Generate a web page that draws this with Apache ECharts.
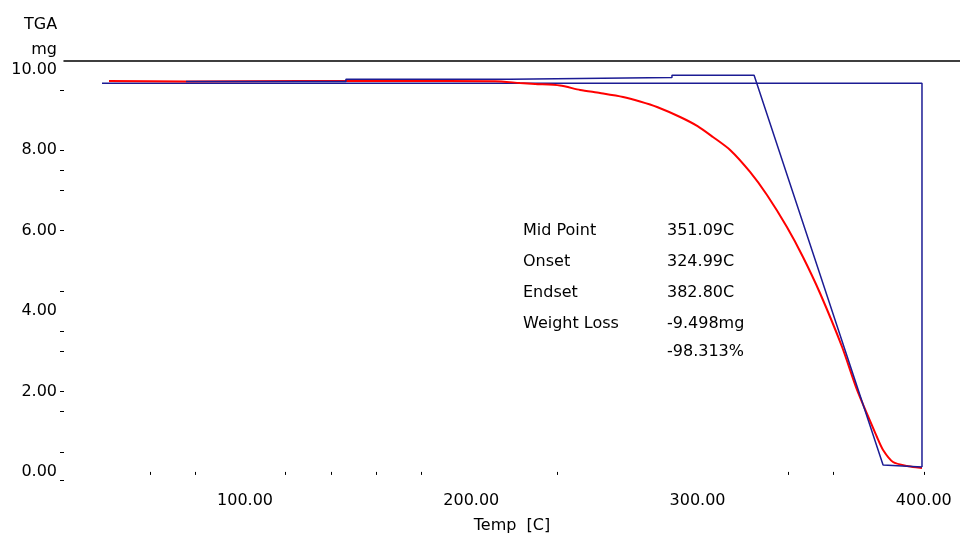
<!DOCTYPE html>
<html>
<head>
<meta charset="utf-8" />
<title>TGA</title>
<script src="https://cdn.jsdelivr.net/npm/echarts@6/dist/echarts.min.js"></script>
<style>
  * { padding: 0; margin: 0; }
  #main { width: 960px; height: 533px; }
</style>
</head>
<body>
<div id="main"></div>
<script type="text/javascript">
// measured weight curve  [temp C, mg]
var redCurve = [
  [39.9, 9.723], [73.9, 9.71], [124.3, 9.72], [168.5, 9.72], [210.5, 9.718],
  [221.5, 9.673], [228.2, 9.648], [239.2, 9.61], [248.1, 9.50], [256.9, 9.424],
  [267.1, 9.325], [274.6, 9.213], [282.1, 9.076], [292.3, 8.827], [300.0, 8.60],
  [306.8, 8.33], [314.4, 8.007], [323.2, 7.46], [330.7, 6.887], [339.5, 6.09],
  [346.6, 5.346], [354.1, 4.45], [363.9, 3.107], [370.5, 2.038],
  [379.3, 0.869], [382.0, 0.546], [386.4, 0.247], [392.6, 0.148], [399.2, 0.098]
];
// baseline box
var baseLine = [[36.8, 9.665], [399.2, 9.665], [399.2, 0.123]];
// onset / endset tangent construction
var tangentLine = [
  [73.9, 9.71], [144.6, 9.71], [144.6, 9.765], [217.1, 9.765], [217.1, 9.81],
  [288.7, 9.81], [288.7, 9.864], [325.0, 9.864], [382.0, 0.173], [399.2, 0.123]
];
var xLabels = [100, 200, 300, 400];
var xTicks = [58, 78, 118, 138, 158, 178, 238, 340, 360, 400];
var yLabels = [0, 2, 4, 6, 8, 10];
var yTicks = [9.5, 8, 7.5, 7, 6, 4.5, 3.5, 3, 2, 1.5, 0.5, -0.2];
var resultNames = ['Mid Point', 'Onset', 'Endset', 'Weight Loss', ''];
var resultValues = ['351.09C', '324.99C', '382.80C', '-9.498mg', '-98.313%'];

var font = 'DejaVu Sans';
var myChart = echarts.init(document.getElementById('main'));

var graphics = [
  { type: 'text', left: 24, top: 17, style: { text: 'TGA', font: '16px ' + font, fill: '#000' } },
  { type: 'text', right: 903, top: 42, style: { text: 'mg', font: '16px ' + font, fill: '#000' } }
];
for (var i = 0; i < resultNames.length; i++) {
  graphics.push({ type: 'text', left: 523, top: 223 + i * 31 - (i == 4 ? 3 : 0),
    style: { text: resultNames[i], font: '16px ' + font, fill: '#000' } });
  graphics.push({ type: 'text', left: 667, top: 223 + i * 31 - (i == 4 ? 3 : 0),
    style: { text: resultValues[i], font: '16px ' + font, fill: '#000' } });
}

var option = {
  backgroundColor: '#fff',
  animation: false,
  grid: { left: 64, right: 0, top: 61, bottom: 45, outerBoundsMode: 'none', containLabel: false },
  graphic: graphics,
  xAxis: [{
    type: 'value',
    min: 20,
    max: 416,
    name: 'Temp  [C]',
    nameLocation: 'middle',
    nameGap: 30,
    nameTextStyle: { fontFamily: font, fontSize: 16, color: '#000' },
    axisLine: { show: false },
    splitLine: { show: false },
    axisTick: { show: true, length: 3, customValues: xTicks, lineStyle: { color: '#000' } },
    axisLabel: {
      customValues: xLabels, margin: 5,
      fontFamily: font, fontSize: 16, color: '#000',
      formatter: function (v) { return v.toFixed(2); }
    }
  }, {
    type: 'value',
    position: 'top',
    min: 20,
    max: 416,
    axisLine: { show: true, lineStyle: { color: '#000', width: 1.5 } },
    axisTick: { show: false },
    axisLabel: { show: false },
    splitLine: { show: false }
  }],
  yAxis: [{
    type: 'value',
    min: -0.4,
    max: 10.22,
    axisLine: { show: false },
    splitLine: { show: false },
    axisTick: { show: true, length: 4, customValues: yTicks, lineStyle: { color: '#000' } },
    axisLabel: {
      customValues: yLabels, margin: 7,
      fontFamily: font, fontSize: 16, color: '#000',
      formatter: function (v) { return v.toFixed(2); }
    }
  }],
  series: [{
    name: 'TGA',
    type: 'line',
    data: redCurve,
    showSymbol: false,
    smooth: 0.25,
    lineStyle: { color: '#ff0000', width: 2 },
    z: 3
  }, {
    name: 'baseline',
    type: 'line',
    data: baseLine,
    showSymbol: false,
    lineStyle: { color: '#1c1c94', width: 1.5 },
    z: 2
  }, {
    name: 'tangent',
    type: 'line',
    data: tangentLine,
    showSymbol: false,
    lineStyle: { color: '#1c1c94', width: 1.5 },
    z: 4
  }]
};

myChart.setOption(option);
</script>
</body>
</html>
